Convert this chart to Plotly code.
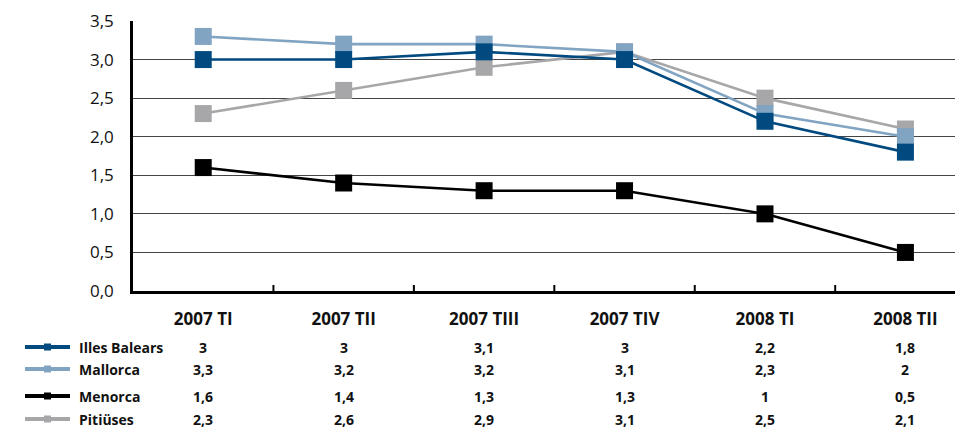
import plotly.graph_objects as go

categories = ["2007 TI", "2007 TII", "2007 TIII", "2007 TIV", "2008 TI", "2008 TII"]
illes_balears = [3.0, 3.0, 3.1, 3.0, 2.2, 1.8]
mallorca = [3.3, 3.2, 3.2, 3.1, 2.3, 2.0]
menorca = [1.6, 1.4, 1.3, 1.3, 1.0, 0.5]
pitiuses = [2.3, 2.6, 2.9, 3.1, 2.5, 2.1]
series_names = ["Illes Balears", "Mallorca", "Menorca", "Pitiüses"]
series_labels = [
    ["3", "3", "3,1", "3", "2,2", "1,8"],
    ["3,3", "3,2", "3,2", "3,1", "2,3", "2"],
    ["1,6", "1,4", "1,3", "1,3", "1", "0,5"],
    ["2,3", "2,6", "2,9", "3,1", "2,5", "2,1"],
]
y_ticks = [0, 0.5, 1.0, 1.5, 2.0, 2.5, 3.0, 3.5]

colors = ["#004a80", "#80a4c2", "#000000", "#a7a7aa"]
series = [illes_balears, mallorca, menorca, pitiuses]
order = [3, 2, 1, 0]

FONT = "Open Sans"
OFF = 8  # page body margin
W, H = 963 - OFF, 448 - OFF
L, T, B = 133 - OFF, 21 - OFF, 448 - 291
PW, PH = W - L, H - T - B

fig = go.Figure()
for i in order:
    fig.add_trace(go.Scatter(
        x=list(range(len(categories))), y=series[i], name=series_names[i],
        mode="lines+markers",
        line=dict(color=colors[i], width=2.6),
        marker=dict(symbol="square", size=17, color=colors[i], line=dict(width=0)),
        showlegend=False,
    ))

row_y = [347, 369, 396, 419]  # page y
def px_x(x):
    return (x - 133) / PW
def px_y(y):
    return 1 - (y - 21) / PH

for r, name in enumerate(series_names):
    yp = px_y(row_y[r])
    fig.add_shape(type="line", xref="paper", yref="paper",
                  x0=px_x(25), x1=px_x(70), y0=yp, y1=yp,
                  line=dict(color=colors[r], width=4))
    fig.add_shape(type="rect", xref="paper", yref="paper",
                  x0=px_x(44), x1=px_x(51), y0=yp - 3.5 / PH, y1=yp + 3.5 / PH,
                  fillcolor=colors[r], line=dict(width=0))
    fig.add_annotation(xref="paper", yref="paper", x=px_x(77), y=yp,
                       text="<b>" + name + "</b>", showarrow=False,
                       xanchor="left", yanchor="middle",
                       font=dict(family=FONT, size=14, color="#111"))
    for c, lab in enumerate(series_labels[r]):
        fig.add_annotation(xref="x", yref="paper", x=c, y=yp,
                           text="<b>" + lab + "</b>", showarrow=False,
                           xanchor="center", yanchor="middle",
                           font=dict(family=FONT, size=14, color="#111"))

fig.update_layout(
    width=W, height=H,
    margin=dict(l=L, r=0, t=T, b=B, autoexpand=False),
    paper_bgcolor="white", plot_bgcolor="white",
    separators=",.",
    font=dict(family=FONT, color="#111"),
    xaxis=dict(
        tickmode="array", tickvals=list(range(len(categories))),
        ticktext=["<b>" + c + "</b>" for c in categories],
        range=[-0.5, 5.41], showgrid=False, zeroline=False,
        showline=True, linecolor="black", linewidth=2.5,
        ticks="", tickfont=dict(family=FONT, size=17, color="#111"),
        ticklabelstandoff=11, automargin=False,
    ),
    yaxis=dict(
        range=[0, 3.5], tickvals=y_ticks, tickformat=".1f",
        showgrid=True, gridcolor="#444444", gridwidth=1,
        zeroline=False, showline=True, linecolor="black", linewidth=2.5,
        ticks="", tickfont=dict(family=FONT, size=17, color="#111"),
        ticklabelstandoff=13, automargin=False,
    ),
)
for b in range(len(categories) - 1):
    fig.add_shape(type="line", xref="x", yref="paper", x0=b + 0.5, x1=b + 0.5,
                  y0=0, y1=6 / PH, line=dict(color="black", width=2))

fig.write_html("out.html")
